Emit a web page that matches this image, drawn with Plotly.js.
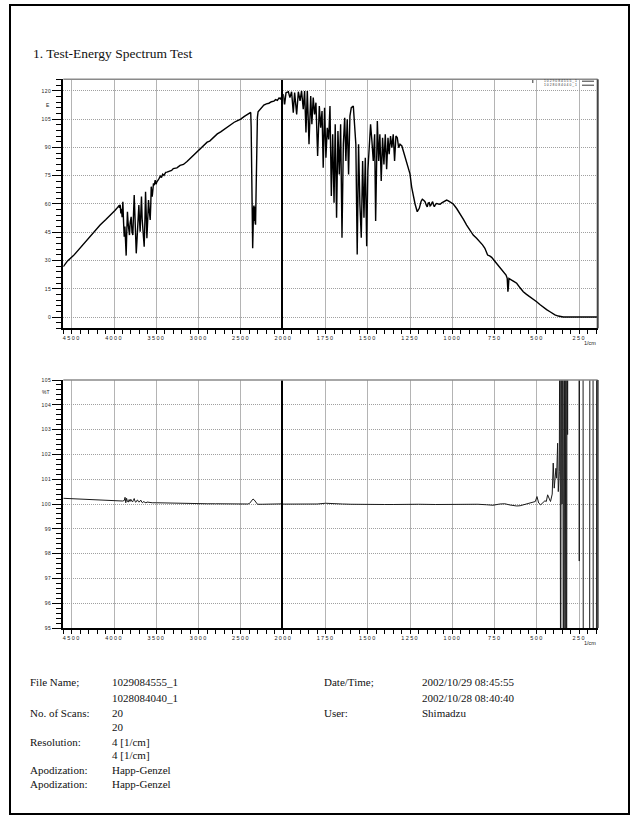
<!DOCTYPE html>
<html>
<head>
<meta charset="utf-8">
<script src="https://cdn.plot.ly/plotly-3.0.1.min.js"></script>
<style>
  html, body { margin: 0; padding: 0; background: #fff; }
  #chart { width: 634px; height: 818px; }
  g.xtick text, g.x2tick text, g.x3tick text, g.x4tick text { letter-spacing: 1.4px; }
  g.ytick text, g.y3tick text { letter-spacing: 0.5px; }
</style>
</head>
<body>
<div id="chart"></div>
<script>
// ---------- DATA ----------
const energyWavenumber = [4600,4550,4480,4400,4320,4240,4165,4100,4047,3990,3967,3950,3940,
  3935,3928,3920,3912,3905,3896,3888,3880,3872,3864,3857,3850,3842,3834,3826,3818,3810,3798,3788,3778,
  3770,3762,3756,3750,3744,3738,3730,3723,3715,3707,3700,3692,3684,3676,3668,3659,3652,3644,3636,3628,
  3620,3612,3602,3593,3583,3573,3566,3561,3555,3549,3542,3534,3524,3514,3504,3494,3474,3454,3440,3425,
  3410,3390,3375,3350,3320,3300,3257,3220,3180,3138,3100,3060,3030,2990,2950,2900,2870,2822,2780,2740,
  2700,2664,2620,2580,2540,2503,2460,2420,2395,2385,2380,2374,2368,2362,2357,2352,2347,2342,2337,2332,
  2328,2322,2314,2306,2298,2280,2260,2230,2200,2170,2140,2111,2090,2070,2050,2035,2020,2010,2000,
  1992,1984,1970,1961,1951,1941,1933,1921,1911,1901,1892,1882,1874,1866,1858,1848,1838,1831,1823,1815,
  1807,1797,1787,1779,1771,1764,1756,1748,1740,1732,1724,1716,1708,1700,1693,1685,1677,1669,1661,1653,
  1645,1637,1630,1622,1614,1606,1598,1586,1578,1571,1563,1555,1547,1539,1531,1523,1515,1507,1500,1492,
  1484,1476,1468,1460,1454,1444,1436,1429,1421,1413,1405,1397,1389,1381,1374,1366,1358,1350,1342,1334,
  1326,1318,1310,1299,1290,1281,1261,1251,1241,1230,1221,1208,1196,1185,1178,1170,1162,1155,1149,1143,
  1137,1132,1127,1122,1117,1112,1107,1100,1093,1083,1073,1063,1054,1044,1034,1024,1014,1005,995,975,
  955,935,916,897,877,857,837,822,808,800,792,780,768,753,739,724,709,696,683,676,672,669,666,658,650,
  635,620,600,581,562,542,522,502,483,463,443,423,408,394,374,354,345,300,250,200,141];
const energyValues = [26.7,29.8,32.6,36.8,41.0,45.0,48.8,51.6,53.8,56.6,57.7,58.6,59.2,
  58.0,59.6,55.0,57.5,53.0,61.2,50.5,42.6,48.0,38.0,32.6,45.0,55.9,50.0,44.5,43.5,50.0,53.2,45.0,43.5,
  55.0,64.8,57.0,47.9,38.0,33.8,40.0,45.3,52.0,59.4,52.0,45.3,55.0,63.9,52.0,44.4,40.0,37.3,50.0,66.5,
  55.0,41.8,52.0,62.1,56.0,51.5,60.0,69.2,66.0,63.9,68.0,71.0,70.0,72.7,70.5,71.8,73.0,74.8,74.0,75.8,
  75.2,76.8,76.9,77.5,77.8,78.8,79.2,80.5,81.0,82.6,84.3,86.0,87.5,89.3,91.0,92.8,93.4,95.7,97.2,98.3,
  99.6,100.7,102.2,103.4,104.3,105.1,106.5,107.6,108.3,108.6,101.0,80.0,55.0,36.5,46.0,57.7,59.2,51.0,58.5,50.0,
  49.0,65.0,95.0,106.0,109.0,110.0,111.2,112.5,113.2,113.5,114.3,114.6,115.4,115.0,116.3,115.8,116.8,117.2,118.2,
  112.9,119.1,119.6,116.5,119.6,108.5,119.1,107.6,119.6,114.7,120.0,110.3,120.0,97.9,120.0,91.7,117.3,102.3,116.5,107.6,
  113.8,85.5,112.0,100.5,109.4,79.3,111.1,84.6,100.5,94.3,112.0,64.2,97.0,60.7,102.3,52.7,98.7,75.7,102.3,42.1,
  91.7,105.8,82.8,105.0,75.7,106.7,111.1,112.0,98.7,91.7,33.2,91.7,59.8,42.1,82.8,52.7,84.6,37.6,77.5,89.9,
  102.3,93.4,82.8,97.0,51.0,104.1,82.8,97.0,72.2,95.2,81.0,97.0,78.4,95.2,86.4,96.1,89.9,97.0,82.8,96.1,
  95.2,89.9,91.7,90.8,88.0,85.0,79.3,76.0,69.0,63.0,60.0,55.9,57.7,61.5,62.5,62.0,61.2,59.5,58.5,60.5,
  60.7,59.0,59.4,60.5,61.2,59.6,58.5,59.8,60.3,60.0,59.9,60.6,61.2,61.5,62.1,61.7,61.2,60.6,60.0,57.6,
  55.0,51.8,48.8,46.0,43.5,41.8,40.0,38.3,36.5,34.5,32.9,32.4,31.7,30.0,28.5,26.7,24.9,23.5,22.3,20.5,13.4,16.0,20.5,20.2,19.6,
  18.8,17.9,15.5,13.4,12.0,10.8,9.4,8.1,6.6,5.1,3.9,2.8,1.8,1.1,0.5,0.2,0.0,0.0,0.1,0.0,0.0];

const ratioWavenumber = [4600,4500,4400,4300,4200,4100,4000,3900,3880,3870,3862,3852,3842,3832,3822,3812,
  3802,3792,3782,3772,3762,3752,3742,3732,3722,3712,3702,3692,3682,3672,3662,3652,3642,3632,3622,3612,
  3600,3580,3550,3500,3400,3300,3200,3100,3000,2900,2800,2700,2600,2500,2420,2400,2385,2370,2358,2345,
  2333,2320,2305,2250,2200,2100,2000,1900,1800,1750,1700,1650,1600,1500,1450,1400,1350,1300,1250,1200,
  1100,1000,900,850,800,760,720,690,660,640,620,600,580,560,540,525,510,500,490,478,465,453,445,437,
  429,420,410,404,398,392,388,384,378,374,368,364,360,356,352,348,344,339,334,329,325,322,319,316,
  252,250,248,228,226,189,187,169,167,149,147,141];
const ratioValues = [100.23,100.21,100.19,100.17,100.15,100.13,100.12,100.12,100.14,100.27,100.05,100.23,100.10,100.08,100.18,100.10,
  100.19,100.09,100.08,100.15,100.22,100.10,100.07,100.14,100.16,100.09,100.08,100.13,100.15,100.07,100.05,100.10,100.09,100.06,100.04,100.08,
  100.07,100.05,100.05,100.05,100.04,100.03,100.03,100.02,100.01,100.01,100.01,100.00,100.01,100.00,100.00,100.02,100.10,100.18,100.20,100.17,
  100.10,100.02,99.99,99.99,99.99,100.00,100.00,100.01,100.00,100.03,100.03,100.00,99.99,100.00,99.99,99.98,99.98,99.99,99.98,99.99,
  99.98,99.99,99.98,99.99,99.97,99.95,100.00,100.01,99.96,99.93,99.92,99.93,99.97,100.00,100.02,100.05,100.10,100.30,100.04,99.97,100.05,100.13,100.10,100.37,
  100.24,100.10,100.40,101.65,100.64,101.10,101.44,101.04,102.45,100.50,101.30,112,88,112,100.0,112,88,112,88,112,88,112,102.8,112,
  112,97.7,112,112,88,88,112,112,88,88,112,112];

const ticksLeft = [4500, 4000, 3500, 3000, 2500, 2000];
const ticksRight = [1750, 1500, 1250, 1000, 750, 500, 250];
const ticksEnergy = [0, 15, 30, 45, 60, 75, 90, 105, 120];
const ticksRatio = [95, 96, 97, 98, 99, 100, 101, 102, 103, 104, 105];

const legendNames = ['1029084555_1', '1028084040_1'];
const titleText = '1. Test-Energy Spectrum Test';
const infoLeftLabels = ['File Name;', '', 'No. of Scans:', '', 'Resolution:', '', 'Apodization:', 'Apodization:'];
const infoLeftValues = ['1029084555_1', '1028084040_1', '20', '20', '4 [1/cm]', '4 [1/cm]', 'Happ-Genzel', 'Happ-Genzel'];
const infoRightLabels = ['Date/Time;', '', 'User:'];
const infoRightValues = ['2002/10/29 08:45:55', '2002/10/28 08:40:40', 'Shimadzu'];

// ---------- LAYOUT HELPERS (pixel -> paper) ----------
const W = 634, H = 818;
const px = v => v / W;
const py = v => 1 - v / H;

const L = 63.3, MID = 283.3, R = 597.7;
const T1 = 79.3, B1 = 328.3, T2 = 380, B2 = 628;

const tickFont = {family: 'Liberation Sans, Arial, sans-serif', size: 5.5, color: '#222'};
const yTickFont = {family: 'Liberation Sans, Arial, sans-serif', size: 5, color: '#222'};

function xAxis(domain, range, tickvals, minorDtick, anchor) {
  return {
    domain: domain, range: range, anchor: anchor,
    tickmode: 'array', tickvals: tickvals,
    ticks: 'outside', ticklen: 4, tickwidth: 1, tickcolor: '#000',
    ticklabelstandoff: -0.5,
    minor: {tickmode: 'linear', tick0: 0, dtick: minorDtick, ticks: 'outside', ticklen: 4, tickwidth: 1, tickcolor: '#000', showgrid: false},
    showgrid: true, gridcolor: '#b4b4b4', gridwidth: 1,
    showline: true, linecolor: '#000', linewidth: 1.5,
    zeroline: false, tickfont: tickFont, fixedrange: true
  };
}
function yAxisMain(domain, range, tickvals, minorDtick, anchor) {
  return {
    domain: domain, range: range, anchor: anchor,
    tickmode: 'array', tickvals: tickvals,
    ticks: 'outside', ticklen: 9, tickwidth: 1, tickcolor: '#000',
    minor: {tickmode: 'linear', tick0: 0, dtick: minorDtick, ticks: 'outside', ticklen: 5, tickwidth: 1, tickcolor: '#000', showgrid: false},
    showgrid: true, gridcolor: '#a0a0a0', gridwidth: 1, griddash: '1px,1px',
    showline: true, linecolor: '#000', linewidth: 2,
    zeroline: false, tickfont: yTickFont, fixedrange: true
  };
}
function yAxisSide(domain, range, tickvals, anchor) {
  return {
    domain: domain, range: range, anchor: anchor,
    tickmode: 'array', tickvals: tickvals, showticklabels: false, ticks: '',
    showgrid: true, gridcolor: '#a0a0a0', gridwidth: 1, griddash: '1px,1px',
    showline: true, linecolor: '#000', linewidth: 2,
    zeroline: false, fixedrange: true
  };
}

const dxL = [px(L), px(MID)], dxR = [px(MID), px(R)];
const dy1 = [py(B1), py(T1)], dy2 = [py(B2), py(T2)];
const eRange = [-6, 126.2], tRange = [95, 105];
const wLeft = [4600, 2000], wRight = [2000, 141];

const lineTop = {color: '#000', width: 1.4};
const lineBot = {color: '#1a1a1a', width: 1};

const traces = [
  {x: energyWavenumber, y: energyValues, xaxis: 'x', yaxis: 'y', mode: 'lines', line: lineTop, name: legendNames[0], hoverinfo: 'skip'},
  {x: energyWavenumber, y: energyValues, xaxis: 'x2', yaxis: 'y2', mode: 'lines', line: lineTop, name: legendNames[0], hoverinfo: 'skip'},
  {x: ratioWavenumber, y: ratioValues, xaxis: 'x3', yaxis: 'y3', mode: 'lines', line: lineBot, name: legendNames[1], hoverinfo: 'skip'},
  {x: ratioWavenumber, y: ratioValues, xaxis: 'x4', yaxis: 'y4', mode: 'lines', line: lineBot, name: legendNames[1], hoverinfo: 'skip'}
];

const serif = 'Liberation Serif, Times New Roman, serif';
const annotations = [];
annotations.push({xref: 'paper', yref: 'paper', x: px(31), y: py(53.3), xanchor: 'left', yanchor: 'middle',
  text: titleText, showarrow: false, font: {family: serif, size: 13.5, color: '#111'}});
annotations.push({xref: 'paper', yref: 'y', x: px(52), y: 112.5, xanchor: 'right', yanchor: 'middle',
  text: 'E', showarrow: false, font: yTickFont});
annotations.push({xref: 'paper', yref: 'y3', x: px(52), y: 104.5, xanchor: 'right', yanchor: 'middle',
  text: '%T', showarrow: false, font: yTickFont});
annotations.push({xref: 'paper', yref: 'paper', x: px(590), y: py(342.8), xanchor: 'center', yanchor: 'middle',
  text: '1/cm', showarrow: false, borderpad: 0, font: tickFont});
annotations.push({xref: 'paper', yref: 'paper', x: px(590), y: py(642.5), xanchor: 'center', yanchor: 'middle',
  text: '1/cm', showarrow: false, borderpad: 0, font: tickFont});
legendNames.forEach((n, i) => {
  annotations.push({xref: 'paper', yref: 'paper', x: px(578), y: py(81.2 + i * 4.0), xanchor: 'right', yanchor: 'middle',
    text: n.split('').join(' '), showarrow: false, borderpad: 0,
    font: {family: 'Liberation Sans, sans-serif', size: 3.4, color: '#333'}});
});
const rowY = [682.3, 697.8, 713.2, 727.4, 741.6, 755.4, 769.8, 783.6];
infoLeftLabels.forEach((t, i) => {
  if (t) annotations.push({xref: 'paper', yref: 'paper', x: px(27.5), y: py(rowY[i]), xanchor: 'left', yanchor: 'middle',
    text: t, showarrow: false, font: {family: serif, size: 11, color: '#111'}});
});
infoLeftValues.forEach((t, i) => {
  annotations.push({xref: 'paper', yref: 'paper', x: px(110), y: py(rowY[i]), xanchor: 'left', yanchor: 'middle',
    text: t, showarrow: false, font: {family: serif, size: 11, color: '#111'}});
});
infoRightLabels.forEach((t, i) => {
  if (t) annotations.push({xref: 'paper', yref: 'paper', x: px(322), y: py(rowY[i]), xanchor: 'left', yanchor: 'middle',
    text: t, showarrow: false, font: {family: serif, size: 11, color: '#111'}});
});
infoRightValues.forEach((t, i) => {
  annotations.push({xref: 'paper', yref: 'paper', x: px(419.5), y: py(rowY[i]), xanchor: 'left', yanchor: 'middle',
    text: t, showarrow: false, font: {family: serif, size: 11, color: '#111'}});
});

const shapes = [
  // page frame
  {type: 'rect', xref: 'paper', yref: 'paper', x0: px(10), x1: px(629), y0: py(814), y1: py(5), line: {color: '#000', width: 2}},
  // panel top borders
  {type: 'line', xref: 'paper', yref: 'paper', x0: px(L), x1: px(R), y0: py(T1), y1: py(T1), line: {color: '#8a8a8a', width: 1.5}},
  {type: 'line', xref: 'paper', yref: 'paper', x0: px(L), x1: px(R), y0: py(T2), y1: py(T2), line: {color: '#8a8a8a', width: 1.5}},
  // panel right borders
  {type: 'line', xref: 'paper', yref: 'paper', x0: px(R), x1: px(R), y0: py(B1), y1: py(T1), line: {color: '#444', width: 2}},
  {type: 'line', xref: 'paper', yref: 'paper', x0: px(R), x1: px(R), y0: py(B2), y1: py(T2), line: {color: '#444', width: 2}},
  // legend line samples
  {type: 'line', xref: 'paper', yref: 'paper', x0: px(582), x1: px(594), y0: py(81.2), y1: py(81.2), line: {color: '#000', width: 0.8}},
  {type: 'line', xref: 'paper', yref: 'paper', x0: px(582), x1: px(594), y0: py(85.2), y1: py(85.2), line: {color: '#000', width: 0.8}},
  {type: 'line', xref: 'paper', yref: 'paper', x0: px(532.8), x1: px(532.8), y0: py(83), y1: py(80), line: {color: '#000', width: 0.8}}
];

const layout = {
  width: W, height: H,
  margin: {l: 0, r: 0, t: 0, b: 0, pad: 0},
  paper_bgcolor: '#fff', plot_bgcolor: '#fff',
  showlegend: false,
  xaxis: xAxis(dxL, wLeft, ticksLeft, 100, 'y'),
  xaxis2: xAxis(dxR, wRight, ticksRight, 50, 'y2'),
  xaxis3: xAxis(dxL, wLeft, ticksLeft, 100, 'y3'),
  xaxis4: xAxis(dxR, wRight, ticksRight, 50, 'y4'),
  yaxis: yAxisMain(dy1, eRange, ticksEnergy, 3, 'x'),
  yaxis2: yAxisSide(dy1, eRange, ticksEnergy, 'x2'),
  yaxis3: yAxisMain(dy2, tRange, ticksRatio, 0.2, 'x3'),
  yaxis4: yAxisSide(dy2, tRange, ticksRatio, 'x4'),
  annotations: annotations,
  shapes: shapes
};

Plotly.newPlot('chart', traces, layout, {displayModeBar: false, staticPlot: true});
</script>
</body>
</html>
